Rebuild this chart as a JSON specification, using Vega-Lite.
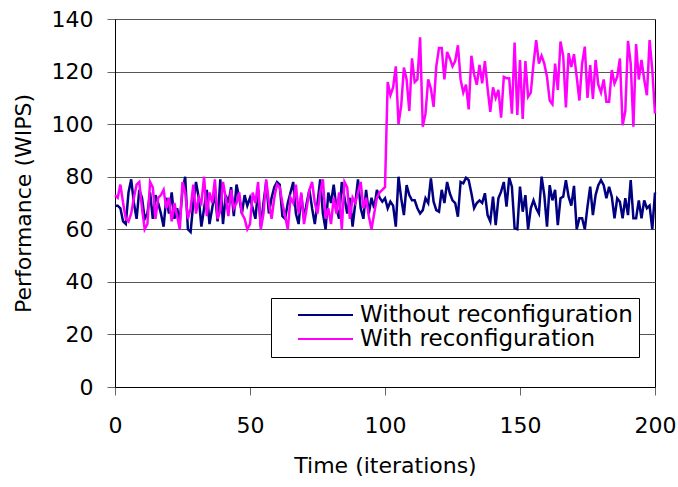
{
"$schema": "https://vega.github.io/schema/vega-lite/v6.json",
"width": 540, "height": 368,
"autosize": {"type": "none"},
"padding": {"left": 115, "top": 19, "right": 23, "bottom": 100},
"background": "white",
"config": {"font": "DejaVu Sans", "view": {"stroke": "#000", "strokeWidth": 1}},
"data": {"values": [
{"t":0,"without":69,"with":73},{"t":1,"without":69,"with":72},{"t":2,"without":68,"with":77},{"t":3,"without":63,"with":70},{"t":4,"without":62,"with":64},
{"t":5,"without":74,"with":63},{"t":6,"without":79,"with":66},{"t":7,"without":70,"with":72},{"t":8,"without":64,"with":77},{"t":9,"without":75,"with":78},
{"t":10,"without":72,"with":68},{"t":11,"without":64,"with":60},{"t":12,"without":66,"with":62},{"t":13,"without":74,"with":78},{"t":14,"without":64,"with":76},
{"t":15,"without":73,"with":64},{"t":16,"without":70,"with":72},{"t":17,"without":66,"with":73},{"t":18,"without":61,"with":75},{"t":19,"without":72,"with":68},
{"t":20,"without":66,"with":72},{"t":21,"without":74,"with":63},{"t":22,"without":64,"with":70},{"t":23,"without":68,"with":65},{"t":24,"without":63,"with":60},
{"t":25,"without":75,"with":78},{"t":26,"without":80,"with":74},{"t":27,"without":60,"with":64},{"t":28,"without":59,"with":68},{"t":29,"without":70,"with":77},
{"t":30,"without":78,"with":66},{"t":31,"without":72,"with":72},{"t":32,"without":61,"with":70},{"t":33,"without":68,"with":80},{"t":34,"without":75,"with":65},
{"t":35,"without":62,"with":74},{"t":36,"without":68,"with":70},{"t":37,"without":74,"with":79},{"t":38,"without":63,"with":64},{"t":39,"without":79,"with":67},
{"t":40,"without":62,"with":78},{"t":41,"without":73,"with":72},{"t":42,"without":70,"with":65},{"t":43,"without":76,"with":75},{"t":44,"without":65,"with":68},
{"t":45,"without":77,"with":70},{"t":46,"without":72,"with":74},{"t":47,"without":66,"with":66},{"t":48,"without":73,"with":64},{"t":49,"without":69,"with":60},
{"t":50,"without":72,"with":62},{"t":51,"without":68,"with":74},{"t":52,"without":64,"with":70},{"t":53,"without":75,"with":78},{"t":54,"without":61,"with":60},
{"t":55,"without":70,"with":66},{"t":56,"without":78,"with":79},{"t":57,"without":66,"with":70},{"t":58,"without":72,"with":64},{"t":59,"without":76,"with":72},
{"t":60,"without":78,"with":77},{"t":61,"without":77,"with":76},{"t":62,"without":65,"with":70},{"t":63,"without":64,"with":65},{"t":64,"without":70,"with":60},
{"t":65,"without":74,"with":72},{"t":66,"without":78,"with":70},{"t":67,"without":66,"with":77},{"t":68,"without":62,"with":66},{"t":69,"without":73,"with":74},
{"t":70,"without":64,"with":62},{"t":71,"without":70,"with":68},{"t":72,"without":75,"with":75},{"t":73,"without":68,"with":78},{"t":74,"without":62,"with":70},
{"t":75,"without":70,"with":66},{"t":76,"without":79,"with":74},{"t":77,"without":66,"with":79},{"t":78,"without":60,"with":64},{"t":79,"without":74,"with":68},
{"t":80,"without":70,"with":62},{"t":81,"without":77,"with":72},{"t":82,"without":68,"with":66},{"t":83,"without":64,"with":74},{"t":84,"without":78,"with":60},
{"t":85,"without":72,"with":78},{"t":86,"without":66,"with":76},{"t":87,"without":72,"with":64},{"t":88,"without":61,"with":72},{"t":89,"without":70,"with":70},
{"t":90,"without":79,"with":74},{"t":91,"without":68,"with":78},{"t":92,"without":64,"with":68},{"t":93,"without":75,"with":72},{"t":94,"without":66,"with":65},
{"t":95,"without":72,"with":60},{"t":96,"without":68,"with":66},{"t":97,"without":75,"with":72},{"t":98,"without":72,"with":74},{"t":99,"without":70.5,"with":75},
{"t":100,"without":71.8,"with":76},{"t":101,"without":68,"with":116},{"t":102,"without":70.5,"with":111},{"t":103,"without":69,"with":114},{"t":104,"without":61,"with":122},
{"t":105,"without":80,"with":100},{"t":106,"without":71.8,"with":107},{"t":107,"without":65.4,"with":121.5},{"t":108,"without":76.8,"with":117},{"t":109,"without":73,"with":105},
{"t":110,"without":71,"with":125},{"t":111,"without":71,"with":116},{"t":112,"without":68,"with":117},{"t":113,"without":66,"with":133},{"t":114,"without":67.3,"with":99},
{"t":115,"without":71.8,"with":104},{"t":116,"without":70,"with":117},{"t":117,"without":79.4,"with":113.5},{"t":118,"without":70.5,"with":106.6},{"t":119,"without":67.3,"with":122},
{"t":120,"without":66.7,"with":129},{"t":121,"without":75,"with":129},{"t":122,"without":70,"with":117},{"t":123,"without":78,"with":127.5},{"t":124,"without":73.7,"with":125},
{"t":125,"without":71,"with":122},{"t":126,"without":70,"with":124},{"t":127,"without":64.8,"with":130},{"t":128,"without":78,"with":117},{"t":129,"without":77.5,"with":112},
{"t":130,"without":79.6,"with":115},{"t":131,"without":78.7,"with":105.6},{"t":132,"without":73.7,"with":126},{"t":133,"without":68,"with":119},{"t":134,"without":70,"with":115},
{"t":135,"without":71,"with":122.5},{"t":136,"without":70,"with":115.5},{"t":137,"without":73.7,"with":124},{"t":138,"without":65.4,"with":113.5},{"t":139,"without":63,"with":104.7},
{"t":140,"without":72.4,"with":114},{"t":141,"without":61.6,"with":110},{"t":142,"without":71.8,"with":113},{"t":143,"without":74.3,"with":102.5},{"t":144,"without":78,"with":118},
{"t":145,"without":68.6,"with":117.5},{"t":146,"without":79.6,"with":117.5},{"t":147,"without":76.2,"with":104},{"t":148,"without":60.4,"with":131},{"t":149,"without":60,"with":103.5},
{"t":150,"without":76.2,"with":124.4},{"t":151,"without":66.7,"with":102},{"t":152,"without":73,"with":124},{"t":153,"without":60,"with":110.4},{"t":154,"without":68,"with":112},
{"t":155,"without":71,"with":123},{"t":156,"without":68,"with":132},{"t":157,"without":66,"with":123},{"t":158,"without":80,"with":126},{"t":159,"without":73,"with":123},
{"t":160,"without":61,"with":118},{"t":161,"without":76.8,"with":109},{"t":162,"without":71,"with":107.6},{"t":163,"without":75,"with":123},{"t":164,"without":61.6,"with":113},
{"t":165,"without":71.8,"with":131.4},{"t":166,"without":72.4,"with":126},{"t":167,"without":78.7,"with":106.4},{"t":168,"without":72.4,"with":127},{"t":169,"without":69,"with":121.7},
{"t":170,"without":76.5,"with":126.6},{"t":171,"without":60,"with":118},{"t":172,"without":64.2,"with":109},{"t":173,"without":64.2,"with":123},{"t":174,"without":60,"with":129.5},
{"t":175,"without":68.6,"with":110},{"t":176,"without":76.2,"with":122.5},{"t":177,"without":65.4,"with":109.6},{"t":178,"without":73,"with":124.4},{"t":179,"without":76.8,"with":115},
{"t":180,"without":78.7,"with":112},{"t":181,"without":76.8,"with":117},{"t":182,"without":71.8,"with":108.5},{"t":183,"without":76.2,"with":108.5},{"t":184,"without":72.4,"with":120.6},
{"t":185,"without":64.2,"with":115.5},{"t":186,"without":71.8,"with":118},{"t":187,"without":70.5,"with":125},{"t":188,"without":64.2,"with":99.6},{"t":189,"without":71.8,"with":105},
{"t":190,"without":65.4,"with":131.7},{"t":191,"without":78.7,"with":123},{"t":192,"without":64.2,"with":99},{"t":193,"without":64.2,"with":130.5},{"t":194,"without":71,"with":117},
{"t":195,"without":64.2,"with":124.4},{"t":196,"without":71,"with":117},{"t":197,"without":68,"with":111},{"t":198,"without":69,"with":132},{"t":199,"without":60,"with":120.6},
{"t":200,"without":74,"with":104}
]},
"transform": [{"fold": ["without", "with"], "as": ["series", "v"]}],
"mark": {"type": "line", "strokeWidth": 2.5},
"encoding": {
  "x": {"field": "t", "type": "quantitative",
    "scale": {"domain": [0, 200], "nice": false},
    "axis": {"values": [0, 50, 100, 150, 200], "grid": false, "title": "Time (iterations)",
      "labelFontSize": 22, "titleFontSize": 22, "titleFontWeight": "normal",
      "labelColor": "#000", "titleColor": "#000", "domainColor": "#000", "tickColor": "#666",
      "tickSize": 8, "labelPadding": 20, "titlePadding": 19, "labelFlush": false}},
  "y": {"field": "v", "type": "quantitative",
    "scale": {"domain": [0, 140], "nice": false},
    "axis": {"values": [0, 20, 40, 60, 80, 100, 120, 140], "grid": true, "gridColor": "#555", "gridOpacity": 1,
      "title": "Performance (WIPS)", "labelFontSize": 22, "titleFontSize": 22, "titleFontWeight": "normal",
      "labelColor": "#000", "titleColor": "#000", "domainColor": "#000", "tickColor": "#666",
      "tickSize": 8, "labelPadding": 14, "titlePadding": 16, "labelFlush": false}},
  "color": {"field": "series", "type": "nominal",
    "scale": {"domain": ["without", "with"], "range": ["#000080", "#FF00FF"]},
    "legend": {"title": null, "orient": "none", "legendX": 156, "legendY": 279, "direction": "vertical",
      "symbolType": "stroke", "symbolSize": 3025, "symbolStrokeWidth": 2, "clipHeight": 22, "rowPadding": 1,
      "padding": 6, "symbolOffset": 20, "labelOffset": 6, "labelFontSize": 23, "labelColor": "#000",
      "strokeColor": "#000", "fillColor": "#fff", "labelLimit": 400,
      "labelExpr": "datum.value == 'without' ? 'Without reconfiguration' : 'With reconfiguration'"}}
}
}
